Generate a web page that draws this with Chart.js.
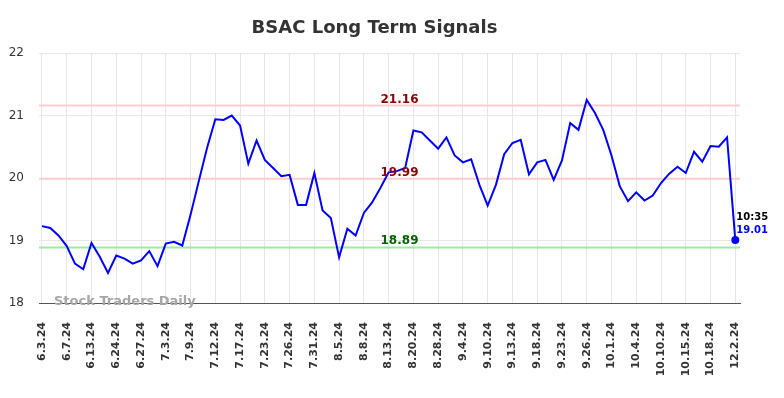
<!DOCTYPE html>
<html>
<head>
<meta charset="utf-8">
<script src="https://cdn.jsdelivr.net/npm/chart.js@4.4.0/dist/chart.umd.min.js"></script>
<style>
  html, body { margin: 0; padding: 0; background: #ffffff; }
  #wrap { width: 784px; height: 398px; position: relative; }
</style>
</head>
<body>
<div id="wrap"><canvas id="c" width="784" height="398"></canvas></div>
<script>
// ---- data ----
const tickLabels = ["6.3.24","6.7.24","6.13.24","6.24.24","6.27.24","7.3.24","7.9.24","7.12.24","7.17.24","7.23.24","7.26.24","7.31.24","8.5.24","8.8.24","8.13.24","8.20.24","8.28.24","9.4.24","9.10.24","9.13.24","9.18.24","9.23.24","9.26.24","10.1.24","10.4.24","10.10.24","10.15.24","10.18.24","12.2.24"];
const pointsPerTick = 3;
const prices = [
  19.23, 19.20, 19.08, 18.91, 18.63, 18.54, 18.96, 18.74, 18.48, 18.76,
  18.71, 18.63, 18.68, 18.83, 18.59, 18.95, 18.98, 18.92, 19.41, 19.95,
  20.48, 20.94, 20.93, 21.00, 20.84, 20.23, 20.60, 20.29, 20.16, 20.03,
  20.05, 19.57, 19.57, 20.08, 19.48, 19.36, 18.73, 19.19, 19.08, 19.44,
  19.61, 19.84, 20.09, 20.11, 20.16, 20.76, 20.73, 20.60, 20.47, 20.65,
  20.36, 20.25, 20.30, 19.89, 19.56, 19.89, 20.38, 20.56, 20.61, 20.06,
  20.25, 20.29, 19.97, 20.28, 20.88, 20.77, 21.25, 21.04, 20.77, 20.36,
  19.87, 19.63, 19.77, 19.64, 19.72, 19.92, 20.07, 20.18, 20.08, 20.42,
  20.26, 20.51, 20.50, 20.65, 19.01
];
const levelValues = [21.16, 19.99, 18.89];
const levelLabels = ["21.16", "19.99", "18.89"];
const lastTime = "10:35";
const lastPriceLabel = "19.01";
const yTicks = [18, 19, 20, 21, 22];
const titleText = "BSAC Long Term Signals";
const watermarkText = "Stock Traders Daily";

// ---- styles ----
const levelLineColors = ["#ffcccc", "#ffcccc", "#99ee99"];
const levelTextColors = ["#8b0000", "#8b0000", "#006400"];

const lineData = prices.map((v, i) => ({ x: i, y: v }));
const lastIndex = prices.length - 1;

const overlay = {
  id: 'overlay',
  beforeDatasetsDraw(chart) {
    const { ctx, chartArea, scales } = chart;
    const ys = scales.y;
    ctx.save();
    levelValues.forEach((lv, i) => {
      const py = ys.getPixelForValue(lv);
      ctx.strokeStyle = levelLineColors[i];
      ctx.lineWidth = 2;
      ctx.beginPath();
      ctx.moveTo(chartArea.left, py);
      ctx.lineTo(chartArea.right, py);
      ctx.stroke();
    });
    // watermark
    ctx.font = 'bold 13px "DejaVu Sans"';
    ctx.fillStyle = '#a6a6a6';
    ctx.textAlign = 'left';
    ctx.textBaseline = 'alphabetic';
    ctx.fillText(watermarkText, 54, chartArea.bottom + 1.5);
    ctx.restore();
  },
  afterDatasetsDraw(chart) {
    const { ctx, scales } = chart;
    const xs = scales.x, ys = scales.y;
    ctx.save();
    ctx.font = 'bold 12px "DejaVu Sans"';
    ctx.textAlign = 'center';
    ctx.textBaseline = 'alphabetic';
    levelValues.forEach((lv, i) => {
      const py = ys.getPixelForValue(lv);
      ctx.fillStyle = levelTextColors[i];
      ctx.fillText(levelLabels[i], 399.5, py - 3);
    });
    const px = xs.getPixelForValue(lastIndex);
    const py = ys.getPixelForValue(prices[lastIndex]);
    ctx.font = 'bold 10px "DejaVu Sans"';
    ctx.textAlign = 'left';
    ctx.fillStyle = '#000000';
    ctx.fillText(lastTime, px + 1, py - 20);
    ctx.fillStyle = '#0000ff';
    ctx.fillText(lastPriceLabel, px + 1, py - 7);
    // title
    ctx.font = 'bold 18px "DejaVu Sans"';
    ctx.fillStyle = '#333333';
    ctx.textAlign = 'center';
    ctx.fillText(titleText, 374.5, 33);
    ctx.restore();
  }
};

new Chart(document.getElementById('c'), {
  type: 'line',
  data: {
    datasets: [{
      data: lineData,
      borderColor: '#0000ff',
      backgroundColor: '#0000ff',
      borderWidth: 2,
      tension: 0,
      pointRadius: (c) => c.dataIndex === lastIndex ? 4 : 0,
      pointHoverRadius: 0,
      pointBackgroundColor: '#0000ff',
      pointBorderWidth: 0
    }]
  },
  options: {
    responsive: false,
    animation: false,
    events: [],
    layout: { padding: { top: 53, right: 44, left: 0, bottom: 0 } },
    plugins: { legend: { display: false }, title: { display: false }, tooltip: { enabled: false } },
    scales: {
      x: {
        type: 'linear',
        min: -0.36,
        max: lastIndex + 0.57,
        afterBuildTicks: (s) => { s.ticks = tickLabels.map((_, i) => ({ value: i * pointsPerTick })); },
        afterFit: (s) => { s.height = 95; },
        grid: { color: '#e6e6e6', lineWidth: 1, drawTicks: false },
        border: { display: true, color: '#555555', width: 1 },
        ticks: {
          autoSkip: false,
          minRotation: 90,
          maxRotation: 90,
          padding: 19,
          color: '#333333',
          font: { family: '"DejaVu Sans"', size: 11, weight: 'bold' },
          callback: (v) => tickLabels[Math.round(v / pointsPerTick)]
        }
      },
      y: {
        min: 18,
        max: 22,
        afterBuildTicks: (s) => { s.ticks = yTicks.map(v => ({ value: v })); },
        afterFit: (s) => { s.width = 39; },
        grid: { color: '#e6e6e6', lineWidth: 1, drawTicks: false },
        border: { display: false },
        ticks: {
          padding: 15,
          color: '#333333',
          font: { family: '"DejaVu Sans"', size: 12 },
          callback: (v) => String(v)
        }
      }
    }
  },
  plugins: [overlay]
});
</script>
</body>
</html>
